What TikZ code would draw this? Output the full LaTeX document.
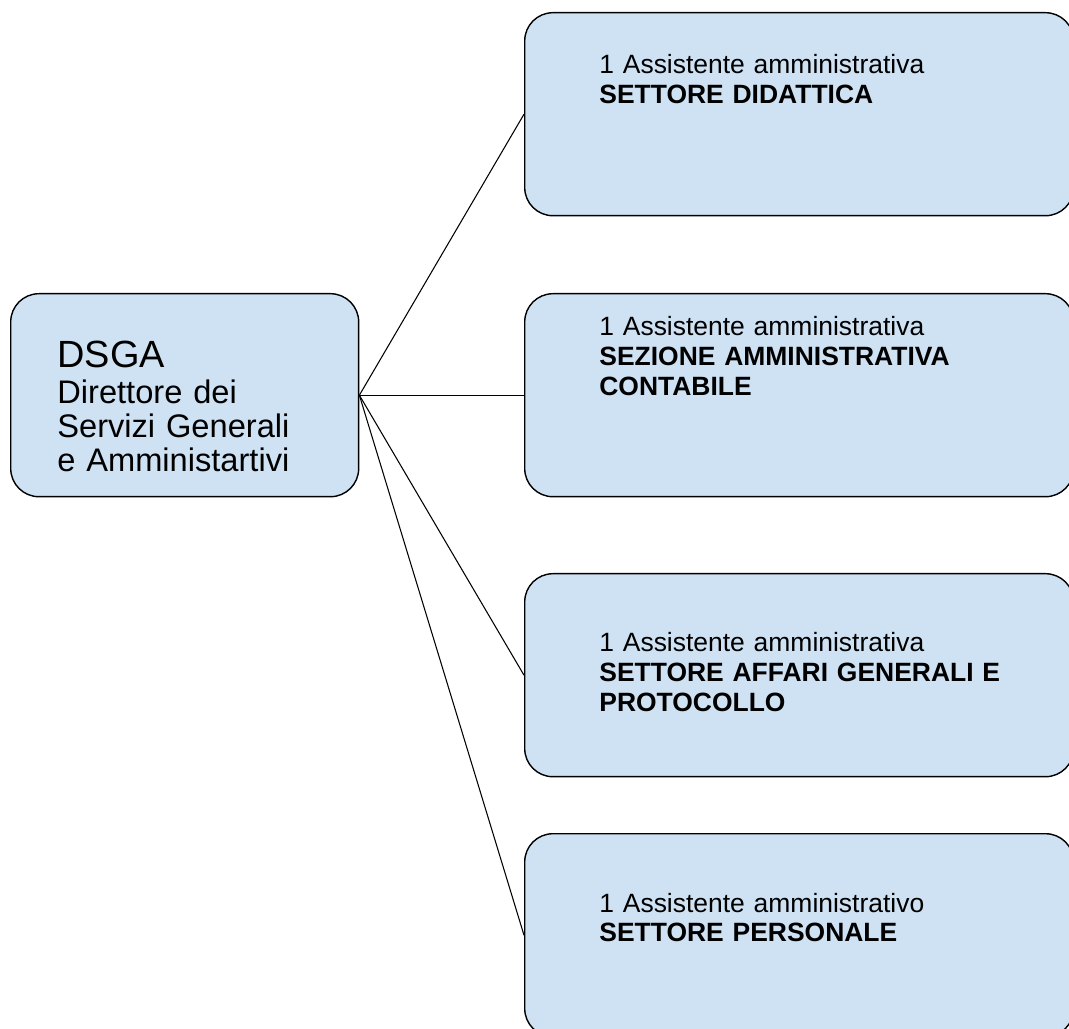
\documentclass[tikz,border=0pt]{standalone}
\usepackage{fontspec}
\setmainfont{Liberation Sans}
\usetikzlibrary{positioning}
\definecolor{boxblue}{HTML}{CFE2F3}

\begin{document}
\begin{tikzpicture}[x=0.567pt, y=-0.567pt,
  box/.style={draw, line width=0.8pt, fill=boxblue, rounded corners=16pt,
    anchor=north west, inner sep=0pt, minimum height=115.1pt},
  txt/.style={anchor=base west, align=left, inner sep=0pt, text width=260pt,
    font=\fontsize{15}{17}\selectfont},
  conn/.style={draw, line width=0.6pt}]
\useasboundingbox (0,0) rectangle (1069,1029);
% boxes
\node[box, minimum width=197.3pt] (d) at (10,293) {};
\node[box, minimum width=311.3pt] (s1) at (524,12) {};
\node[box, minimum width=311.3pt] (s2) at (524,293) {};
\node[box, minimum width=311.3pt] (s3) at (524,573) {};
\node[box, minimum width=311.3pt] (s4) at (524,833) {};
% texts
\node[txt, text width=180pt, font=\fontsize{18.5}{19.3}\selectfont] (dt) at (57,368)
  {{\fontsize{21.5}{19.3}\selectfont DSGA}\\[0.6pt] Direttore dei\\ Servizi Generali\\ e Amministartivi};
\node[txt] (t1) at (599,74) {1 Assistente amministrativa\\ \textbf{SETTORE DIDATTICA}};
\node[txt] (t2) at (599,336) {1 Assistente amministrativa\\ \textbf{SEZIONE AMMINISTRATIVA}\\ \textbf{CONTABILE}};
\node[txt] (t3) at (599,652) {1 Assistente amministrativa\\ \textbf{SETTORE AFFARI GENERALI E}\\ \textbf{PROTOCOLLO}};
\node[txt] (t4) at (599,912) {1 Assistente amministrativo\\ \textbf{SETTORE PERSONALE}};
% connectors
\draw[conn] (d.east) -- (s1.west);
\draw[conn] (d.east) -- (s2.west);
\draw[conn] (d.east) -- (s3.west);
\draw[conn] (d.east) -- (s4.west);
\end{tikzpicture}
\end{document}
